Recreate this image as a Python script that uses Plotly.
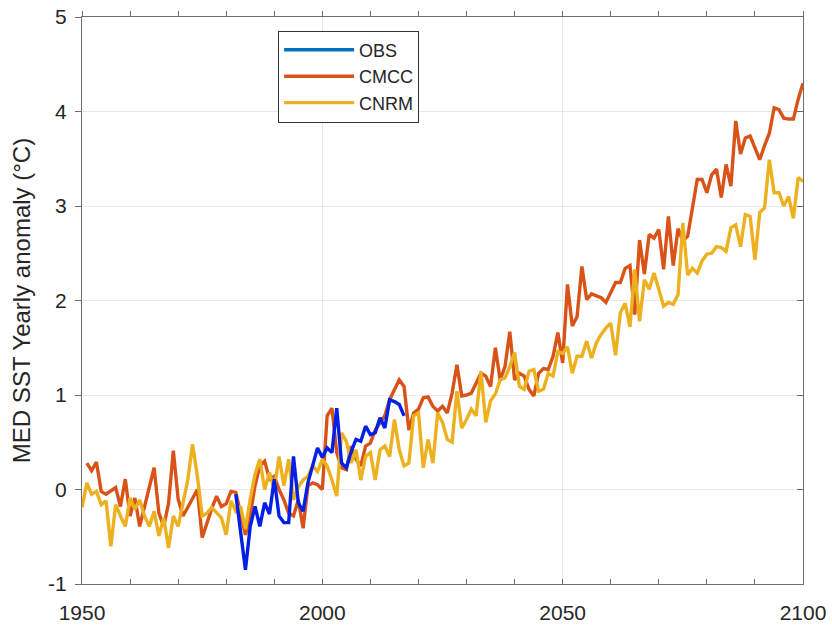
import plotly.graph_objects as go

# ---------------- data ----------------
cmcc_years = list(range(1951, 2101))
cmcc_vals = [
    0.28, 0.20, 0.29, -0.02, -0.05, -0.02, 0.02, -0.18, 0.11, -0.28,   # 1951-1960
    -0.09, -0.39, -0.18, 0.05, 0.23, -0.25, -0.39, -0.15, 0.41, -0.10,  # 1961-1970
    -0.28, -0.19, -0.10, 0.00, -0.51, -0.35, -0.20, -0.07, -0.18, -0.15,  # 1971-1980
    -0.02, -0.03, -0.25, -0.48, -0.27, 0.04, 0.25, 0.30, 0.11, 0.14,    # 1981-1990
    0.00, -0.11, -0.25, -0.28, -0.11, -0.41, 0.04, 0.07, 0.05, 0.00,    # 1991-2000
    0.78, 0.86, 0.39, 0.23, 0.21, 0.46, 0.32, 0.25, 0.46, 0.49,         # 2001-2010
    0.63, 0.70, 0.78, 0.95, 1.06, 1.16, 1.09, 0.63, 0.81, 0.85,         # 2011-2020
    0.97, 0.98, 0.88, 0.83, 0.88, 0.81, 1.02, 1.32, 0.99, 1.00,         # 2021-2030
    1.02, 1.13, 1.23, 1.20, 1.09, 1.50, 1.16, 1.30, 1.67, 1.16,         # 2031-2040
    1.23, 1.20, 1.06, 0.99, 1.23, 1.28, 1.27, 1.41, 1.66, 1.34,         # 2041-2050
    2.17, 1.73, 1.83, 2.36, 2.01, 2.07, 2.05, 2.03, 1.98, 2.08,         # 2051-2060
    2.19, 2.19, 2.34, 2.37, 1.85, 2.64, 2.28, 2.70, 2.66, 2.75,         # 2061-2070
    2.33, 2.89, 2.37, 2.76, 2.63, 2.68, 3.00, 3.28, 3.28, 3.14,         # 2071-2080
    3.33, 3.39, 3.09, 3.44, 3.21, 3.90, 3.55, 3.72, 3.74, 3.61,         # 2081-2090
    3.49, 3.64, 3.77, 4.04, 4.02, 3.93, 3.92, 3.92, 4.13, 4.30,         # 2091-2100
]

cnrm_years = list(range(1950, 2101))
cnrm_vals = [
    -0.19,                                                              # 1950
    0.07, -0.05, -0.02, -0.16, -0.12, -0.60, -0.16, -0.28, -0.39, -0.09,  # 1951-1960
    -0.21, -0.11, -0.28, -0.39, -0.23, -0.49, -0.30, -0.62, -0.28, -0.39,  # 1961-1970
    -0.14, 0.10, 0.48, 0.14, -0.28, -0.25, -0.19, -0.25, -0.30, -0.48,  # 1971-1980
    -0.12, -0.23, -0.18, -0.42, -0.10, 0.16, 0.32, 0.00, 0.18, 0.00,    # 1981-1990
    0.35, 0.04, 0.32, -0.11, 0.03, 0.10, 0.14, 0.25, 0.19, 0.32,        # 1991-2000
    0.25, 0.10, -0.07, 0.60, 0.51, 0.28, 0.42, 0.10, 0.35, 0.39,        # 2001-2010
    0.10, 0.42, 0.46, 0.35, 0.74, 0.42, 0.25, 0.28, 0.78, 0.81,         # 2011-2020
    0.23, 0.53, 0.28, 0.81, 0.71, 0.53, 0.50, 1.04, 0.65, 0.74,         # 2021-2030
    0.85, 0.78, 1.25, 0.71, 0.94, 1.01, 1.16, 1.18, 1.30, 1.45,         # 2031-2040
    1.09, 1.06, 1.25, 1.27, 1.04, 1.06, 1.23, 1.20, 1.46, 1.44,         # 2041-2050
    1.51, 1.23, 1.41, 1.41, 1.57, 1.39, 1.55, 1.64, 1.71, 1.76,         # 2051-2060
    1.42, 1.87, 1.97, 1.72, 2.33, 1.78, 2.22, 2.12, 2.29, 2.12,         # 2061-2070
    1.94, 1.98, 1.96, 2.06, 2.82, 2.27, 2.34, 2.29, 2.42, 2.49,         # 2071-2080
    2.50, 2.57, 2.56, 2.52, 2.77, 2.80, 2.57, 2.91, 2.89, 2.43,         # 2081-2090
    2.93, 2.98, 3.49, 3.14, 3.14, 3.00, 3.10, 2.87, 3.30, 3.26,         # 2091-2100
]

obs_years = list(range(1982, 2018))
obs_vals = [
    -0.05, -0.45, -0.85, -0.39, -0.18, -0.39, -0.14, -0.26, 0.11,       # 1982-1990
    -0.28, -0.35, -0.35, 0.35, -0.14, -0.23, 0.07, 0.25, 0.44, 0.34,    # 1991-2000
    0.44, 0.39, 0.86, 0.28, 0.23, 0.40, 0.53, 0.51, 0.67, 0.58,         # 2001-2010
    0.60, 0.76, 0.65, 0.95, 0.93, 0.90, 0.78,                           # 2011-2017
]

series_names = ["OBS", "CMCC", "CNRM"]
legend_colors = ["#0072BD", "#D95319", "#EDB120"]
line_colors = {"OBS": "#0020E6", "CMCC": "#D95319", "CNRM": "#EDB120"}

x_range = [1950, 2100]
y_range = [-1, 5]
y_ticks = [-1, 0, 1, 2, 3, 4, 5]
y_ticktext = ["-1", "0", "1", "2", "3", "4", "5"]
x_ticks = [1950, 2000, 2050, 2100]
x_minor = list(range(1950, 2101, 10))

FONT = "Liberation Sans, Arial, sans-serif"
AX = "#6e6e6e"
TXT = "#262626"

fig = go.Figure()

# data lines (draw order: CMCC, CNRM, OBS on top)
fig.add_trace(go.Scatter(x=cmcc_years, y=cmcc_vals, mode="lines", name="CMCC",
                         line=dict(color=line_colors["CMCC"], width=3.4),
                         showlegend=False))
fig.add_trace(go.Scatter(x=cnrm_years, y=cnrm_vals, mode="lines", name="CNRM",
                         line=dict(color=line_colors["CNRM"], width=3.4),
                         showlegend=False))
fig.add_trace(go.Scatter(x=obs_years, y=obs_vals, mode="lines", name="OBS",
                         line=dict(color=line_colors["OBS"], width=3.4),
                         showlegend=False))

# legend entries
for nm, col in zip(series_names, legend_colors):
    fig.add_trace(go.Scatter(x=[None], y=[None], mode="lines", name=nm,
                             line=dict(color=col, width=3.4), showlegend=True))

# helper trace for the top/right frame axes
fig.add_trace(go.Scatter(x=[None], y=[None], xaxis="x2", yaxis="y2",
                         mode="lines", showlegend=False, hoverinfo="skip"))

fig.update_layout(
    width=832, height=627,
    margin=dict(l=82, r=29, t=17, b=43, autoexpand=False),
    paper_bgcolor="white", plot_bgcolor="white",
    font=dict(family=FONT, size=21, color=TXT),
    xaxis=dict(range=x_range, tickvals=x_ticks, ticks="inside", ticklen=5,
               tickcolor=AX, showline=True, linecolor=AX, linewidth=1.2,
               showgrid=True, gridcolor="#e8e8e8", gridwidth=1,
               zeroline=False, tickfont=dict(size=21, color=TXT),
               ticklabelstandoff=10, automargin=False,
               minor=dict(tickvals=x_minor, ticks="inside", ticklen=5,
                          tickcolor=AX, showgrid=False)),
    xaxis2=dict(range=x_range, overlaying="x", side="top", anchor="y2",
                tickvals=x_minor, ticks="outside", ticklen=5, tickcolor=AX,
                showticklabels=False, showline=True, linecolor=AX, linewidth=1.2,
                showgrid=False, zeroline=False, automargin=False),
    yaxis=dict(range=y_range, tickvals=y_ticks, ticktext=y_ticktext,
               ticks="outside", ticklen=6,
               tickcolor=AX, showline=True, linecolor=AX, linewidth=1.2,
               showgrid=True, gridcolor="#e8e8e8", gridwidth=1,
               zeroline=False, tickfont=dict(size=21, color=TXT),
               ticklabelstandoff=4, automargin=False,
               title=dict(text="MED SST Yearly anomaly (°C)",
                          font=dict(size=24, color=TXT), standoff=10)),
    yaxis2=dict(range=y_range, overlaying="y", side="right", anchor="x2",
                tickvals=y_ticks, ticks="inside", ticklen=6, tickcolor=AX,
                showticklabels=False, showline=True, linecolor=AX, linewidth=1.2,
                showgrid=False, zeroline=False, automargin=False),
    legend=dict(x=0.272, y=0.976, xanchor="left", yanchor="top",
                bgcolor="white", bordercolor="#333333", borderwidth=1,
                font=dict(size=18, color=TXT), itemwidth=70,
                tracegroupgap=0),
    showlegend=True,
)

fig.write_html("out.html")
